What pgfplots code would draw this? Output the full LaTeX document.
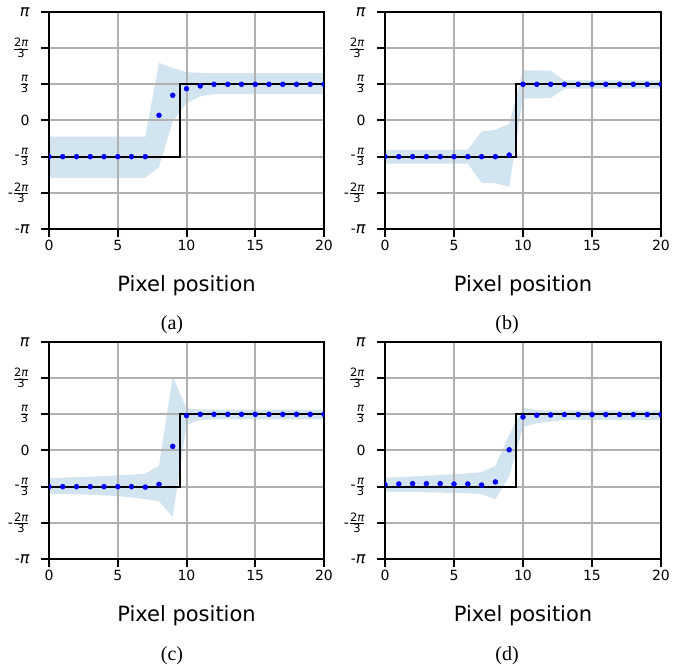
\documentclass[border=0pt]{standalone}
\usepackage{fontspec}
\setmainfont{DejaVu Sans}
\newfontfamily\capfont{Liberation Serif}
\usepackage{pgfplots}
\usepackage{pgfplotstable}
\pgfplotsset{compat=1.18}
\usepgfplotslibrary{fillbetween}

\definecolor{bandblue}{RGB}{31,119,180}
\definecolor{gridgray}{RGB}{176,176,176}

\newcommand{\tickfont}{\fontsize{14}{16}\selectfont}
\newcommand{\bigpi}{{\fontsize{16}{16}\selectfont\itshape π}}
\newcommand{\pifrac}[1]{$\frac{\hbox{\fontsize{11.5}{11.5}\selectfont #1\itshape π}}{\hbox{\fontsize{11.5}{11.5}\selectfont 3}}$}

% estimated phase: x, mean, lower and upper bound of the band
\pgfplotstableread{
x  mu     lo     hi
0  -1.047 -1.66  -0.47
1  -1.047 -1.66  -0.47
2  -1.047 -1.66  -0.47
3  -1.047 -1.66  -0.47
4  -1.047 -1.66  -0.47
5  -1.047 -1.66  -0.47
6  -1.047 -1.66  -0.47
7  -1.047 -1.66  -0.47
8   0.15  -1.35   1.67
9   0.73  -0.03   1.52
10  0.92   0.50   1.40
11  1.00   0.70   1.38
12  1.047  0.76   1.37
13  1.047  0.76   1.37
14  1.047  0.76   1.37
15  1.047  0.76   1.37
16  1.047  0.76   1.37
17  1.047  0.76   1.37
18  1.047  0.76   1.37
19  1.047  0.76   1.37
20  1.047  0.76   1.37
}\dataA

\pgfplotstableread{
x  mu     lo     hi
0  -1.047 -1.25  -0.85
1  -1.047 -1.25  -0.85
2  -1.047 -1.25  -0.85
3  -1.047 -1.25  -0.85
4  -1.047 -1.25  -0.85
5  -1.047 -1.25  -0.85
6  -1.047 -1.25  -0.84
7  -1.047 -1.80  -0.32
8  -1.047 -1.82  -0.27
9  -1.00  -1.92  -0.10
10  1.047  0.64   1.45
11  1.047  0.64   1.45
12  1.047  0.65   1.44
13  1.047  0.92   1.16
14  1.047  0.92   1.16
15  1.047  0.92   1.16
16  1.047  0.92   1.16
17  1.047  0.92   1.16
18  1.047  0.92   1.16
19  1.047  0.92   1.16
20  1.047  0.92   1.16
}\dataB

\pgfplotstableread{
x  mu     lo     hi
0  -1.047 -1.25  -0.80
1  -1.047 -1.26  -0.79
2  -1.047 -1.27  -0.77
3  -1.047 -1.28  -0.76
4  -1.047 -1.30  -0.74
5  -1.047 -1.32  -0.72
6  -1.047 -1.36  -0.70
7  -1.06  -1.41  -0.67
8  -0.98  -1.47  -0.44
9   0.12  -1.93   2.14
10  1.01   0.75   1.22
11  1.047  0.88   1.19
12  1.047  0.90   1.18
13  1.047  0.90   1.18
14  1.047  0.90   1.18
15  1.047  0.90   1.18
16  1.047  0.90   1.18
17  1.047  0.90   1.18
18  1.047  0.90   1.18
19  1.047  0.90   1.18
20  1.047  0.90   1.18
}\dataC

\pgfplotstableread{
x  mu     lo     hi
0  -0.99  -1.19  -0.79
1  -0.97  -1.20  -0.77
2  -0.96  -1.20  -0.75
3  -0.96  -1.21  -0.73
4  -0.96  -1.22  -0.71
5  -0.97  -1.23  -0.69
6  -0.97  -1.24  -0.66
7  -1.00  -1.26  -0.63
8  -0.91  -1.41  -0.44
9   0.02  -0.75   0.45
10  0.97   0.68   1.24
11  1.02   0.79   1.17
12  1.03   0.84   1.16
13  1.04   0.88   1.16
14  1.04   0.88   1.16
15  1.04   0.88   1.16
16  1.04   0.88   1.16
17  1.04   0.88   1.16
18  1.04   0.88   1.16
19  1.04   0.88   1.16
20  1.04   0.88   1.16
}\dataD

\pgfplotsset{
  phase/.style={
    scale only axis, width=275pt, height=217pt, anchor=south west,
    xmin=0, xmax=20, ymin=-3.14159, ymax=3.14159,
    xtick={0,5,10,15,20},
    ytick={-3.14159,-2.0944,-1.0472,0,1.0472,2.0944,3.14159},
    yticklabels={-\bigpi,-\pifrac{2},-\pifrac{},0,\pifrac{},\pifrac{2},\bigpi},
    grid=major, major grid style={draw=gridgray, line width=2pt},
    axis line style={line width=2pt},
    tick align=outside, major tick length=8pt,
    xtick pos=bottom, ytick pos=left,
    tick style={black, line width=2pt},
    ticklabel style={font=\tickfont},
    yticklabel style={xshift=-8pt},
    /pgf/number format/assume math mode=true,
    xlabel={Pixel position},
    xlabel style={font=\fontsize{21}{24}\selectfont,
      at={(axis description cs:0.5,0)}, anchor=center, yshift=-57pt},
    clip marker paths=true,
  },
}

% one panel: band, true step, estimated points
\newcommand{\phasepanel}[1]{%
  \addplot[name path=lo, draw=none, forget plot] table[x=x, y=lo]{#1};
  \addplot[name path=hi, draw=none, forget plot] table[x=x, y=hi]{#1};
  \addplot[fill=bandblue, fill opacity=0.2, draw=none]
    fill between[of=lo and hi, on layer=axis background];
  \addplot[black, line width=2pt]
    coordinates {(0,-1.0472) (9.5,-1.0472) (9.5,1.0472) (20,1.0472)};
  \addplot[only marks, mark=*, mark size=2.5pt, blue,
    mark options={draw=blue, fill=blue}] table[x=x, y=mu]{#1};
}

\begin{document}
\begin{tikzpicture}
\begin{axis}[phase, at={(49pt,437pt)}]
  \phasepanel{\dataA}
\end{axis}
\begin{axis}[phase, at={(385pt,437pt)}, width=276pt]
  \phasepanel{\dataB}
\end{axis}
\begin{axis}[phase, at={(49pt,107pt)}]
  \phasepanel{\dataC}
\end{axis}
\begin{axis}[phase, at={(385pt,107pt)}, width=276pt]
  \phasepanel{\dataD}
\end{axis}

\begin{scope}[every node/.style={font=\capfont\fontsize{20}{24}\selectfont, anchor=base}]
  \node at (172pt,336pt) {(a)};
  \node at (507pt,336pt) {(b)};
  \node at (172pt,5pt) {(c)};
  \node at (507pt,5pt) {(d)};
\end{scope}

\pgfresetboundingbox
\useasboundingbox (0,0) rectangle (673pt,666pt);
\end{tikzpicture}
\end{document}
